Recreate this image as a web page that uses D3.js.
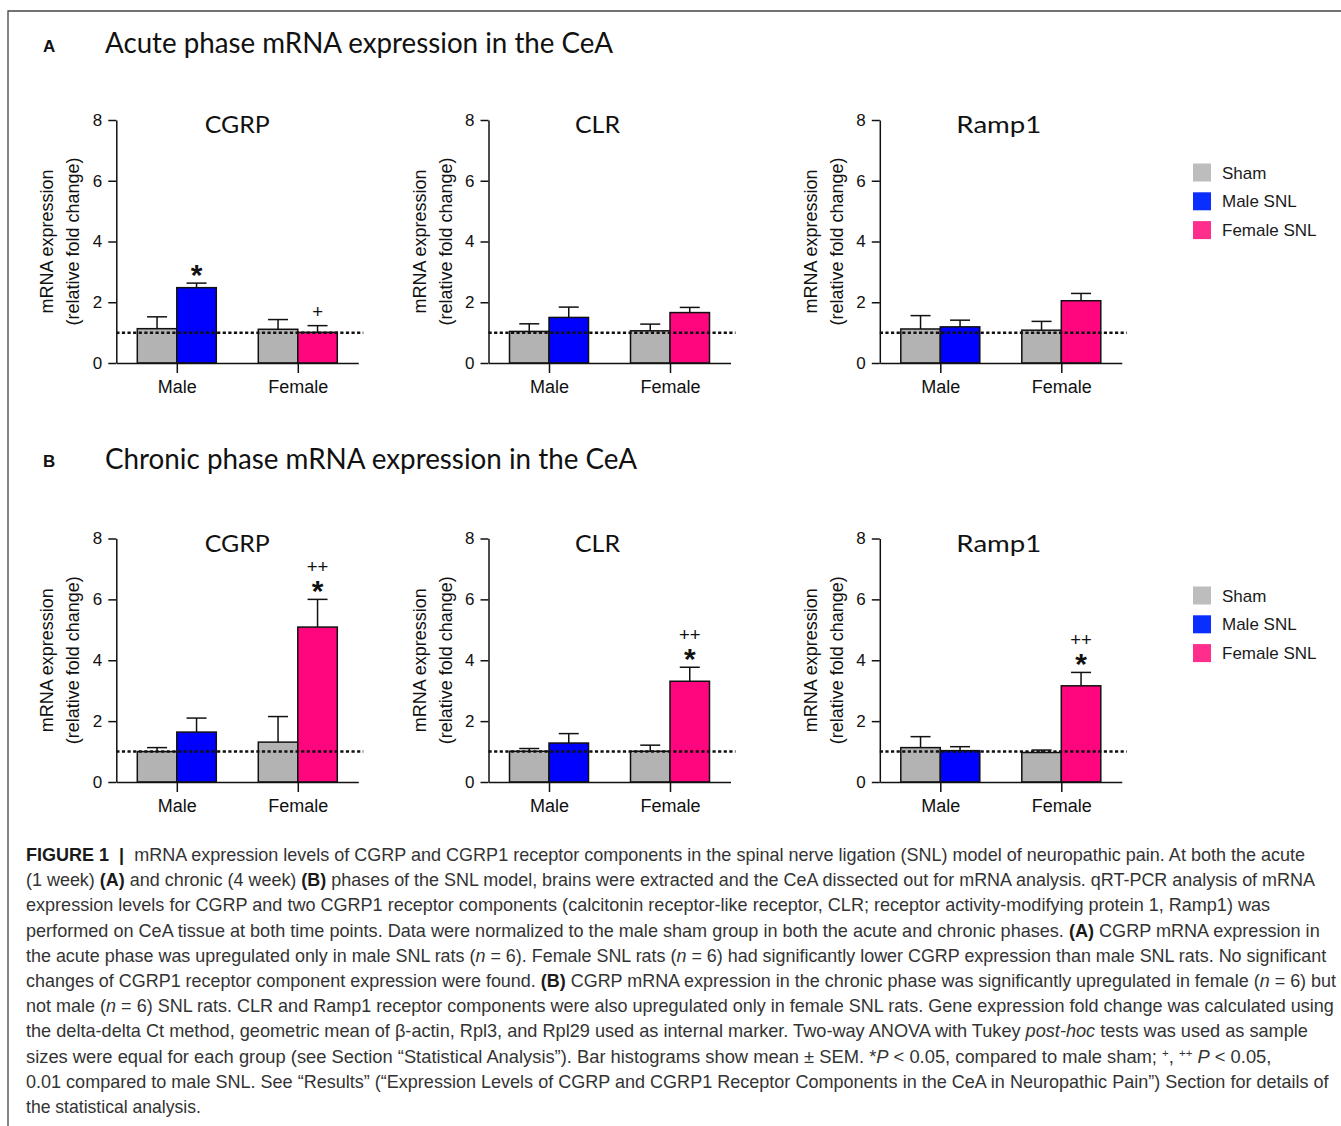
<!DOCTYPE html>
<html><head><meta charset="utf-8">
<script src="https://cdn.jsdelivr.net/npm/d3@7"></script>
<style>body{margin:0;background:#fff}svg{display:block}</style>
</head><body>
<svg id="fig" width="1341" height="1126"></svg>
<script>
// ---------------- DATA ----------------
const categories = ["Male", "Female"];
const subgroups = ["Sham", "SNL"];
const legendLabels = ["Sham", "Male SNL", "Female SNL"];
const genes = ["CGRP", "CLR", "Ramp1"];
const yTickValues = [0, 2, 4, 6, 8];
const referenceLevel = 1;
const panelLetters = ["A", "B"];
const panelTitles = ["Acute phase mRNA expression in the CeA", "Chronic phase mRNA expression in the CeA"];
// bar order: Male sham, Male SNL, Female sham, Female SNL ; rows = CGRP, CLR, Ramp1
const acuteMean = [[1.13, 2.48, 1.11, 1.01], [1.04, 1.50, 1.06, 1.66], [1.12, 1.19, 1.08, 2.05]];
const acuteSem  = [[0.39, 0.15, 0.32, 0.22], [0.25, 0.34, 0.22, 0.17], [0.44, 0.22, 0.29, 0.24]];
const acuteStar = [["", "*", "", ""], ["", "", "", ""], ["", "", "", ""]];
const acutePlus = [["", "", "", "+"], ["", "", "", ""], ["", "", "", ""]];
const chronicMean = [[1.00, 1.64, 1.31, 5.09], [1.01, 1.28, 1.01, 3.31], [1.13, 1.03, 0.97, 3.16]];
const chronicSem  = [[0.13, 0.46, 0.84, 0.91], [0.09, 0.31, 0.20, 0.46], [0.36, 0.13, 0.08, 0.44]];
const chronicStar = [["", "", "", "*"], ["", "", "", "*"], ["", "", "", "*"]];
const chronicPlus = [["", "", "", "++"], ["", "", "", "++"], ["", "", "", "++"]];
const captionLines = [
  [["b","FIGURE 1"],["b","  |  "],["r","mRNA expression levels of CGRP and CGRP1 receptor components in the spinal nerve ligation (SNL) model of neuropathic pain. At both the acute"]],
  [["r","(1 week) "],["b","(A)"],["r"," and chronic (4 week) "],["b","(B)"],["r"," phases of the SNL model, brains were extracted and the CeA dissected out for mRNA analysis. qRT-PCR analysis of mRNA"]],
  [["r","expression levels for CGRP and two CGRP1 receptor components (calcitonin receptor-like receptor, CLR; receptor activity-modifying protein 1, Ramp1) was"]],
  [["r","performed on CeA tissue at both time points. Data were normalized to the male sham group in both the acute and chronic phases. "],["b","(A)"],["r"," CGRP mRNA expression in"]],
  [["r","the acute phase was upregulated only in male SNL rats ("],["i","n"],["r"," = 6). Female SNL rats ("],["i","n"],["r"," = 6) had significantly lower CGRP expression than male SNL rats. No significant"]],
  [["r","changes of CGRP1 receptor component expression were found. "],["b","(B)"],["r"," CGRP mRNA expression in the chronic phase was significantly upregulated in female ("],["i","n"],["r"," = 6) but"]],
  [["r","not male ("],["i","n"],["r"," = 6) SNL rats. CLR and Ramp1 receptor components were also upregulated only in female SNL rats. Gene expression fold change was calculated using"]],
  [["r","the delta-delta Ct method, geometric mean of β-actin, Rpl3, and Rpl29 used as internal marker. Two-way ANOVA with Tukey "],["i","post-hoc"],["r"," tests was used as sample"]],
  [["r","sizes were equal for each group (see Section “Statistical Analysis”). Bar histograms show mean ± SEM. *"],["i","P"],["r"," < 0.05, compared to male sham; "],["s","+"],["r",", "],["s","++"],["r"," "],["i","P"],["r"," < 0.05,"]],
  [["r","0.01 compared to male SNL. See “Results” (“Expression Levels of CGRP and CGRP1 Receptor Components in the CeA in Neuropathic Pain”) Section for details of"]],
  [["r","the statistical analysis."]]
];
const captionEnds = [1306, 1316, 1271, 1321, 1327, 1337, 1335, 1309, 1273, 1329, 201];

// ---------------- STYLE / LAYOUT ----------------
const shamColor = "#b3b3b3", maleColor = "#0000fe", femaleColor = "#ff067f";
const legendColors = ["#bdbdbd", "#0a2eff", "#ff2d8c"];
const axisFont = "'Liberation Sans', Arial, sans-serif";
const titleFont = "Lato, 'Open Sans', sans-serif";
const panels = [
  {top: 120, bottom: 363, titleY: 53.3, letterY: 52, legendTop: 163.5, mean: acuteMean, sem: acuteSem, star: acuteStar, plus: acutePlus},
  {top: 538.5, bottom: 782, titleY: 468.5, letterY: 467, legendTop: 586.5, mean: chronicMean, sem: chronicSem, star: chronicStar, plus: chronicPlus}
];
const chartX = [116.3, 488.5, 879.8];
const chartTitleDx = [121, 109, 119];
const chartTitleW = [65, 45, 85];
const panelTitleW = [508, 532];
const plotW = 242, barW = 39.5;

const svg = d3.select("#fig");
svg.append("rect").attr("width", 1341).attr("height", 1126).attr("fill", "#fff");
svg.append("path").attr("d", "M8,1126 V11 H1341").attr("fill", "none").attr("stroke", "#444").attr("stroke-width", 1.3);

panels.forEach((p, pi) => {
  svg.append("text").attr("x", 43).attr("y", p.letterY).text(panelLetters[pi])
    .attr("font-family", axisFont).attr("font-weight", "bold").attr("font-size", 17).attr("fill", "#111");
  svg.append("text").attr("x", 105).attr("y", p.titleY).text(panelTitles[pi])
    .attr("font-family", titleFont).attr("font-size", 28).attr("fill", "#111")
    .attr("textLength", panelTitleW[pi]).attr("lengthAdjust", "spacingAndGlyphs");

  genes.forEach((gene, gi) => {
    const ax = chartX[gi];
    const g = svg.append("g");
    const y = d3.scaleLinear().domain([0, 8]).range([p.bottom, p.top]);
    const x = d3.scalePoint().domain(categories).range([ax, ax + plotW]).padding(0.5);
    const sub = d3.scaleBand().domain(subgroups).range([-barW, barW]).padding(0);
    const rows = [];
    categories.forEach((c, ci) => subgroups.forEach((s, si) => {
      const i = ci * 2 + si;
      rows.push({c, s, mean: p.mean[gi][i], sem: p.sem[gi][i], star: p.star[gi][i], plus: p.plus[gi][i],
        color: si === 0 ? shamColor : (ci === 0 ? maleColor : femaleColor)});
    }));

    g.append("text").attr("x", ax + chartTitleDx[gi]).attr("y", p.top + 13).attr("text-anchor", "middle")
      .text(gene).attr("font-family", titleFont).attr("font-size", 24).attr("fill", "#111")
      .attr("textLength", chartTitleW[gi]).attr("lengthAdjust", "spacingAndGlyphs");

    g.selectAll("rect.bar").data(rows).join("rect").attr("class", "bar")
      .attr("x", d => x(d.c) + sub(d.s)).attr("width", sub.bandwidth())
      .attr("y", d => y(d.mean)).attr("height", d => y(0) - y(d.mean))
      .attr("fill", d => d.color).attr("stroke", "#111").attr("stroke-width", 1.5);

    const eb = g.selectAll("g.err").data(rows).join("g").attr("class", "err");
    eb.append("line").attr("x1", d => x(d.c) + sub(d.s) + barW / 2).attr("x2", d => x(d.c) + sub(d.s) + barW / 2)
      .attr("y1", d => y(d.mean)).attr("y2", d => y(d.mean + d.sem)).attr("stroke", "#111").attr("stroke-width", 1.5);
    eb.append("line").attr("x1", d => x(d.c) + sub(d.s) + barW / 2 - 10).attr("x2", d => x(d.c) + sub(d.s) + barW / 2 + 10)
      .attr("y1", d => y(d.mean + d.sem)).attr("y2", d => y(d.mean + d.sem)).attr("stroke", "#111").attr("stroke-width", 1.5);

    rows.forEach(d => {
      const cx = x(d.c) + sub(d.s) + barW / 2;
      const topY = y(d.mean + d.sem);
      if (d.star) {
        g.append("text").attr("x", cx).attr("y", topY - 15 + 17).attr("text-anchor", "middle").text(d.star)
          .attr("font-family", axisFont).attr("font-weight", "bold").attr("font-size", 30).attr("fill", "#111");
      }
      if (d.plus) {
        const off = d.star ? 33 : 14;
        g.append("text").attr("x", cx).attr("y", topY - off + 6.6).attr("text-anchor", "middle").text(d.plus)
          .attr("font-family", axisFont).attr("font-size", 18.5).attr("fill", "#111");
      }
    });

    const yAxis = g.append("g").attr("transform", `translate(${ax},0)`)
      .call(d3.axisLeft(y).tickValues(yTickValues).tickSize(8).tickSizeOuter(0).tickPadding(6).tickFormat(d3.format("d")));
    const xAxis = g.append("g").attr("transform", `translate(0,${y(0)})`)
      .call(d3.axisBottom(x).tickSize(10).tickSizeOuter(0).tickPadding(7));
    [yAxis, xAxis].forEach(a => {
      a.selectAll("path,line").attr("stroke", "#111").attr("stroke-width", 1.5);
      a.selectAll("text").attr("font-family", axisFont).attr("fill", "#111");
    });
    yAxis.selectAll("text").attr("font-size", 17);
    xAxis.selectAll("text").attr("font-size", 18);

    g.append("line").attr("x1", ax).attr("x2", ax + plotW + 5).attr("y1", y(referenceLevel)).attr("y2", y(referenceLevel))
      .attr("stroke", "#111").attr("stroke-width", 2.5).attr("stroke-dasharray", "3.2,2.4");

    const cy = (p.top + p.bottom) / 2;
    const yl = g.append("text").attr("transform", `translate(${ax - 63},${cy}) rotate(-90)`)
      .attr("text-anchor", "middle").attr("font-family", axisFont).attr("font-size", 18).attr("fill", "#111");
    yl.append("tspan").attr("x", 0).attr("y", 0).text("mRNA expression");
    yl.append("tspan").attr("x", 0).attr("y", 26).text("(relative fold change)");
  });

  const lg = svg.append("g");
  legendLabels.forEach((lab, li) => {
    const ly = p.legendTop + li * 28.8;
    lg.append("rect").attr("x", 1193).attr("y", ly).attr("width", 18).attr("height", 18).attr("fill", legendColors[li]);
    lg.append("text").attr("x", 1222).attr("y", ly + 15).text(lab)
      .attr("font-family", axisFont).attr("font-size", 17).attr("fill", "#1a1a1a");
  });
});

// caption
const capFont = "'Liberation Sans Narrow', 'Liberation Sans', Arial, sans-serif";
captionLines.forEach((segs, li) => {
  const t = svg.append("text").attr("x", 0).attr("y", 0).attr("xml:space", "preserve")
    .attr("font-family", capFont).attr("font-size", 17.5).attr("fill", "#333");
  let pendingDy = 0;
  segs.forEach(([st, txt]) => {
    const ts = t.append("tspan").text(txt);
    if (st === "s") {
      ts.attr("dy", pendingDy - 6).attr("font-size", 11);
      pendingDy = 6;
      return;
    }
    if (pendingDy) { ts.attr("dy", pendingDy); pendingDy = 0; }
    if (st === "b") ts.attr("font-weight", "bold").attr("fill", "#1a1a1a");
    if (st === "i") ts.attr("font-style", "italic");
  });
  const w = t.node().getComputedTextLength();
  const sx = (captionEnds[li] - 26) / w;
  t.attr("transform", `translate(26,${861 + li * 25.2}) scale(${sx},1)`);
});
</script>
</body></html>
